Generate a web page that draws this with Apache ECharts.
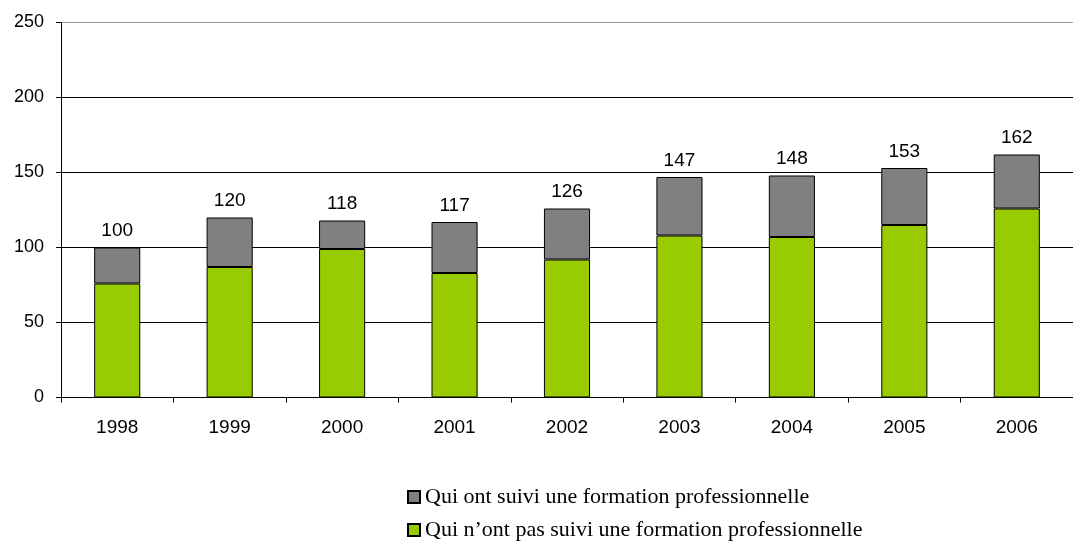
<!DOCTYPE html>
<html><head><meta charset="utf-8">
<script src="https://cdn.jsdelivr.net/npm/echarts@6/dist/echarts.min.js"></script>
<style>html,body{margin:0;padding:0;background:#fff}#c{width:1073px;height:541px}</style>
</head><body><div id="c"></div>
<script>
const categories = ['1998','1999','2000','2001','2002','2003','2004','2005','2006'];
const totals = [100,120,118,117,126,147,148,153,162];
const sansFormation = [76,87,99,83,92,108,107,115,126];
const avecFormation = [24,33,19,34,34,39,41,38,36];
const yTicks = [0,50,100,150,200,250];
const seriesNames = ['Qui ont suivi une formation professionnelle','Qui n\u2019ont pas suivi une formation professionnelle'];

const legendBase = {
  orient:'horizontal', left:407, itemWidth:12, itemHeight:12, padding:0,
  textStyle:{fontFamily:'Liberation Serif',fontSize:22,color:'#000'},
  icon:'rect'
};
const chart = echarts.init(document.getElementById('c'));
chart.setOption({
  animation:false,
  backgroundColor:'#fff',
  grid:{left:61,right:0,top:22.5,bottom:143.5,containLabel:false},
  legend:[
    Object.assign({}, legendBase, {top:486, data:[seriesNames[0]]}),
    Object.assign({}, legendBase, {top:519, data:[seriesNames[1]]})
  ],
  xAxis:{
    type:'category', data:categories,
    axisLine:{lineStyle:{color:'#000',width:1}},
    axisTick:{show:true,length:5,lineStyle:{color:'#000'}},
    axisLabel:{fontFamily:'Liberation Sans',fontSize:19,color:'#000',margin:21}
  },
  yAxis:{
    type:'value', min:yTicks[0], max:yTicks[yTicks.length-1], interval:50,
    axisLine:{show:true,lineStyle:{color:'#000',width:1}},
    axisTick:{show:true,length:5,lineStyle:{color:'#000'}},
    axisLabel:{fontFamily:'Liberation Sans',fontSize:18,color:'#000',margin:17,verticalAlign:'middle',padding:[0,0,4,0]},
    splitLine:{lineStyle:{color:['#000','#000','#000','#000','#000','#999'],width:1}}
  },
  series:[
    {name:seriesNames[1],type:'bar',stack:'t',data:sansFormation,barWidth:'41%',
     itemStyle:{color:'#99CC00',borderColor:'#000',borderWidth:1}},
    {name:seriesNames[0],type:'bar',stack:'t',data:avecFormation,barWidth:'41%',
     itemStyle:{color:'#808080',borderColor:'#000',borderWidth:1},
     label:{show:true,position:'top',distance:7,fontFamily:'Liberation Sans',fontSize:19,color:'#000',
       formatter:p=>String(totals[p.dataIndex])}}
  ]
});
</script></body></html>
